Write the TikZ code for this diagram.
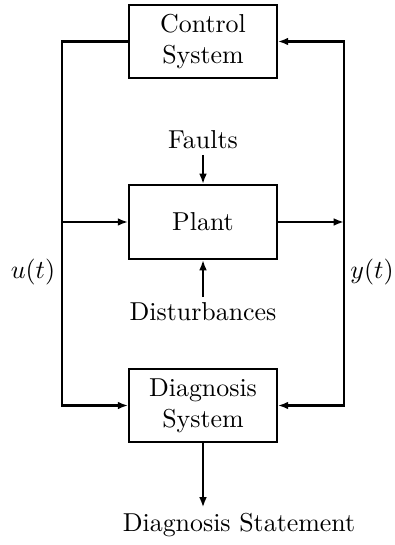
\documentclass[tikz,border=0pt]{standalone}
\usepackage{amsmath,amssymb}
\usepackage{tikz}
\usetikzlibrary{positioning,arrows.meta,calc}
\tikzset{
  >={Latex[length=4pt,width=3pt]},
  blockbox/.style={draw,line width=0.8pt,minimum width=57pt,minimum height=28.5pt,
    align=center,inner sep=2pt},
  flow/.style={->,line width=0.8pt},
  wire/.style={line width=0.8pt},
  sig/.style={inner sep=2pt},
}
\begin{document}
\begin{tikzpicture}[x=0.386pt,y=-0.386pt]
  \useasboundingbox (0,0) rectangle (394,545);
  \node[blockbox] (ctrl) at (203,41.5) {Control\\System};
  \node[blockbox] (plant) at (203,222) {Plant};
  \node[blockbox] (diag) at (203,405.5) {Diagnosis\\System};
  \node[sig] (faults) at (203,140) {Faults};
  \node[sig] (dist) at (203,312) {Disturbances};
  \node[sig] (stmt) at (239,525) {Diagnosis Statement};
  \node[sig] (u) at (33,272) {$u(t)$};
  \node[sig] (y) at (372,272) {$y(t)$};
  \coordinate (ubus) at (62,222);
  \coordinate (ybus) at (344,222);
  \draw[flow] (ctrl.west) -| (ubus) |- (diag.west);
  \draw[flow] (ubus) -- (plant.west);
  \draw[flow] (plant.east) -- (ybus);
  \draw[flow] (ybus) |- (ctrl.east);
  \draw[flow] (ybus) |- (diag.east);
  \draw[flow] (faults) -- (plant);
  \draw[flow] (dist) -- (plant);
  \draw[flow] (diag) -- (diag.south |- stmt.north);
\end{tikzpicture}
\end{document}
